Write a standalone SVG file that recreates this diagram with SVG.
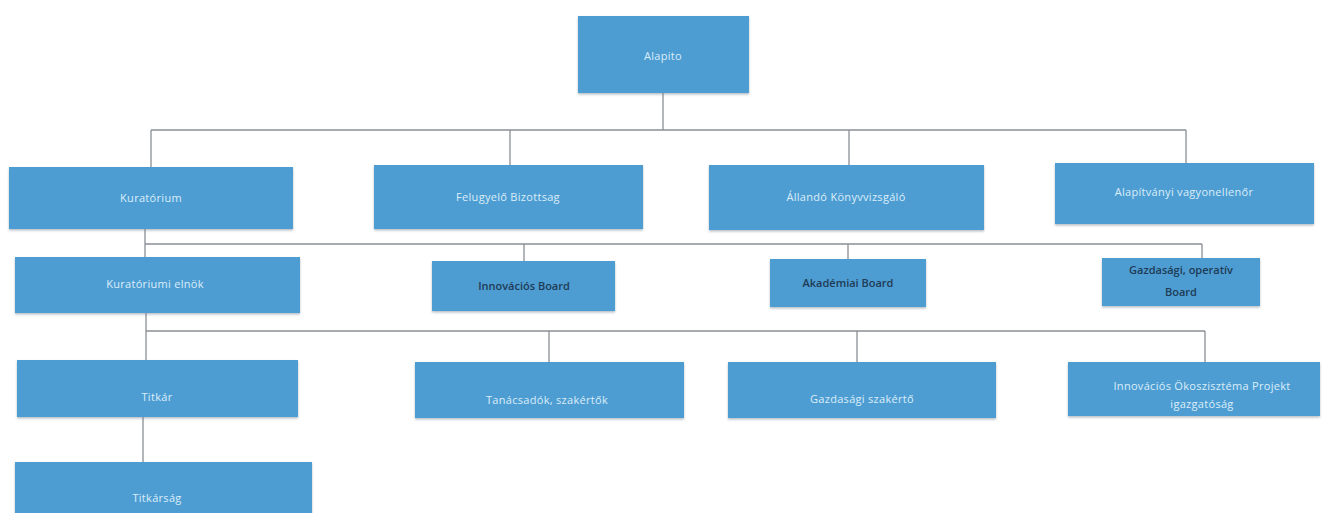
<svg xmlns="http://www.w3.org/2000/svg" width="1327" height="513" viewBox="0 0 1327 513">
<defs>
<filter id="sh" x="-5%" y="-10%" width="110%" height="125%">
<feDropShadow dx="0" dy="1.5" stdDeviation="1.2" flood-color="#6b7d8a" flood-opacity="0.5"/>
</filter>
</defs>
<style>
.box{fill:#4d9dd3;filter:url(#sh)}
.t{font-family:"Open Sans","Liberation Sans",sans-serif;font-size:11px;fill:#dcedf8;text-anchor:middle;letter-spacing:0.3px}
.d{fill:#1f3b55;font-weight:600;letter-spacing:0}
.c{stroke:#8a8f94;stroke-width:1.3;fill:none}
</style>
<rect width="1327" height="513" fill="#ffffff"/>
<g id="connectors">
<path class="c" d="M663 93V130M151 130H1186M151 130V167M510 130V165M849 130V165M1186 130V163"/>
<path class="c" d="M145 229V257M145 244H1202M524 244V261M848 244V259M1202 244V258"/>
<path class="c" d="M146 313V360M146 331H1205M549 331V362M857 331V362M1205 331V362"/>
<path class="c" d="M143 417V462"/>
</g>
<g id="alapito"><rect class="box" x="578" y="16" width="171" height="77"/><text class="t" x="663" y="60">Alapito</text></g>
<g id="kuratorium"><rect class="box" x="9" y="167" width="284" height="62"/><text class="t" x="151" y="202">Kuratórium</text></g>
<g id="felugyelo"><rect class="box" x="374" y="165" width="269" height="64"/><text class="t" x="508" y="201">Felugyelő  Bizottsag</text></g>
<g id="allando"><rect class="box" x="709" y="165" width="275" height="65"/><text class="t" x="846" y="201">Állandó  Könyvvizsgáló</text></g>
<g id="vagyonellenor"><rect class="box" x="1055" y="163" width="259" height="61"/><text class="t" x="1184" y="196">Alapítványi vagyonellenőr</text></g>
<g id="elnok"><rect class="box" x="15" y="257" width="285" height="56"/><text class="t" x="155" y="288">Kuratóriumi elnök</text></g>
<g id="innovacios-board"><rect class="box" x="432" y="261" width="183" height="50"/><text class="t d" x="524" y="290">Innovációs  Board</text></g>
<g id="akademiai-board"><rect class="box" x="770" y="259" width="156" height="48"/><text class="t d" x="848" y="287">Akadémiai Board</text></g>
<g id="gazdasagi-board"><rect class="box" x="1102" y="258" width="158" height="48"/><text class="t d" x="1181" y="274">Gazdasági, operatív</text><text class="t d" x="1181" y="296">Board</text></g>
<g id="titkar"><rect class="box" x="17" y="360" width="281" height="57"/><text class="t" x="157" y="401">Titkár</text></g>
<g id="tanacsadok"><rect class="box" x="415" y="362" width="269" height="56"/><text class="t" x="547" y="404">Tanácsadók, szakértők</text></g>
<g id="gazdasagi-szakerto"><rect class="box" x="728" y="362" width="268" height="56"/><text class="t" x="862" y="403">Gazdasági szakértő</text></g>
<g id="projekt"><rect class="box" x="1068" y="362" width="252" height="54"/><text class="t" x="1202" y="390">Innovációs  Ökoszisztéma Projekt</text><text class="t" x="1202" y="408">igazgatóság</text></g>
<g id="titkarsag"><rect class="box" x="15" y="462" width="297" height="60"/><text class="t" x="157" y="502">Titkárság</text></g>
</svg>
